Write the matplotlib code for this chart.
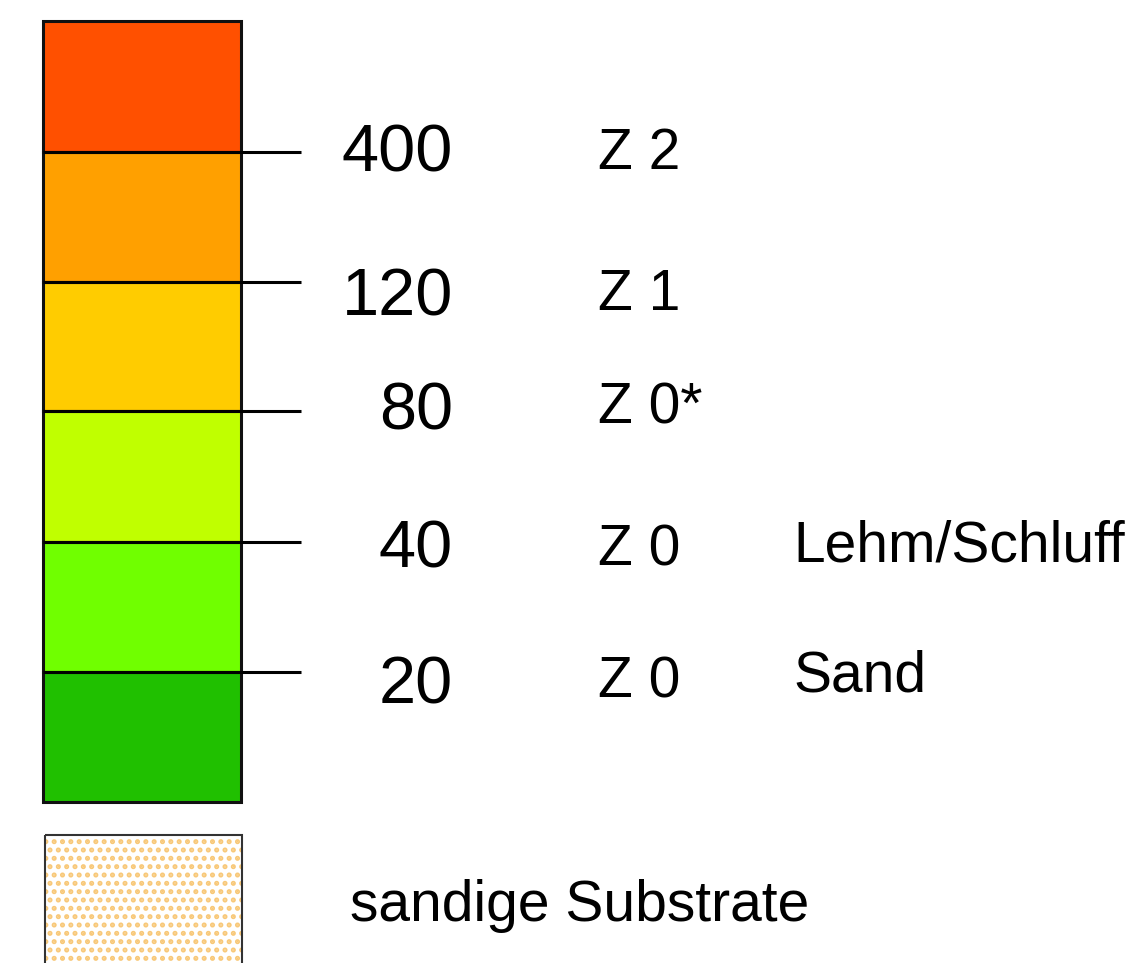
import matplotlib
matplotlib.use("Agg")
import matplotlib.pyplot as plt
from matplotlib.patches import Rectangle

# ---- data ----
thresholds = ["400", "120", "80", "40", "20"]
classes = ["Z 2", "Z 1", "Z 0*", "Z 0", "Z 0"]
notes = ["", "", "", "Lehm/Schluff", "Sand"]
band_colors = ["#FF5000", "#FFA000", "#FFCC00", "#C0FF00", "#70FF00", "#20C000"]
substrate_label = "sandige Substrate"

plt.rcParams['font.family'] = ['Liberation Sans', 'DejaVu Sans']
plt.rcParams['hatch.linewidth'] = 2.4

fig = plt.figure(figsize=(11.4, 9.63), dpi=100)
ax = fig.add_axes([0, 0, 1, 1])
ax.set_xlim(0, 1140)
ax.set_ylim(963, 0)
ax.axis('off')

# layout (pixel coordinates)
box_left, box_right = 43, 241
edges = [21, 152, 282, 411, 542, 672, 802]
line_end = 301
num_right = 453
num_base = [171, 316, 429, 567, 703]
cls_left = 598
cls_base = [169, 310, 423, 565, 698]
note_left = 793
note_base = [0, 0, 0, 562, 692]

for i, c in enumerate(band_colors):
    ax.add_patch(Rectangle((box_left, edges[i]), box_right - box_left,
                           edges[i + 1] - edges[i], facecolor=c,
                           edgecolor='#111111', lw=2.2, zorder=2))

for i, t in enumerate(thresholds):
    y = edges[i + 1]
    ax.plot([box_left, line_end], [y, y], color='black', lw=2.2, zorder=3,
            solid_capstyle='butt')
    ax.text(num_right, num_base[i], t, ha='right', va='baseline',
            fontsize=48, color='black')
    ax.text(cls_left, cls_base[i], classes[i], ha='left', va='baseline',
            fontsize=41, color='black')
    if notes[i]:
        ax.text(note_left, note_base[i], notes[i], ha='left', va='baseline',
                fontsize=41, color='black')

# sandy substrate swatch
sx, sy, sw = 45, 835, 197
ax.add_patch(Rectangle((sx, sy), sw, 963 - sy + 20, facecolor='white',
                       edgecolor='#F8C878', lw=0, hatch='..', zorder=2))
ax.add_patch(Rectangle((sx, sy), sw, 963 - sy + 20, facecolor='none',
                       edgecolor='#333333', lw=1.5, zorder=3))
ax.text(350, 921, substrate_label, ha='left', va='baseline', fontsize=41,
        color='black')

fig.savefig("out.png", dpi=100)
